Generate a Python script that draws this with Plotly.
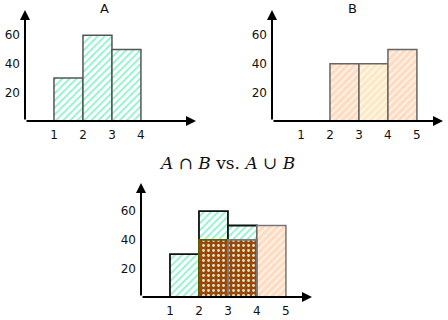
import plotly.graph_objects as go

# histogram-style data
a_bins = [1, 2, 3]
a_counts = [30, 60, 50]
b_bins = [2, 3, 4]
b_counts = [40, 40, 50]
inter_bins = [2, 3]
inter_counts = [40, 40]
union_extra_bins = [4]
union_extra_counts = [50]

x_ticks_a = [1, 2, 3, 4]
x_ticks_b = [1, 2, 3, 4, 5]
y_ticks = [20, 40, 60]

green_hatch = dict(shape="/", fgcolor="#8ef3cc", bgcolor="white", size=5, solidity=0.35, fillmode="replace")
peach_hatch = dict(shape="/", fgcolor="#fff6ee", bgcolor="#fddcc2", size=5, solidity=0.3, fillmode="replace")
yellow_hatch = dict(shape="/", fgcolor="#fffaf0", bgcolor="#fde8c4", size=5, solidity=0.3, fillmode="replace")
dots = dict(shape=".", fgcolor="#d8ecd0", bgcolor="#9c4608", size=5, solidity=0.25, fillmode="replace")

fig = go.Figure()

# panel A
fig.add_trace(go.Bar(x=a_bins, y=a_counts, offset=0, width=1, xaxis="x", yaxis="y",
                     marker=dict(pattern=green_hatch, line=dict(color="#555555", width=1.5))))
# panel B
b_patterns = [peach_hatch, yellow_hatch, peach_hatch]
for i in range(len(b_bins)):
    fig.add_trace(go.Bar(x=[b_bins[i]], y=[b_counts[i]], offset=0, width=1, xaxis="x2", yaxis="y2",
                         marker=dict(pattern=b_patterns[i], line=dict(color="#666666", width=1.5))))
# bottom panel: union then intersection
fig.add_trace(go.Bar(x=a_bins, y=a_counts, offset=0, width=1, xaxis="x3", yaxis="y3",
                     marker=dict(pattern=green_hatch, line=dict(color="#111111", width=1.8))))
fig.add_trace(go.Bar(x=union_extra_bins, y=union_extra_counts, offset=0, width=1, xaxis="x3", yaxis="y3",
                     marker=dict(pattern=peach_hatch, line=dict(color="#777777", width=1.5))))
inter_edges = ["#5c5c00", "#777777"]
for i in range(len(inter_bins)):
    fig.add_trace(go.Bar(x=[inter_bins[i]], y=[inter_counts[i]], offset=0, width=1, xaxis="x3", yaxis="y3",
                         marker=dict(pattern=dots, line=dict(color=inter_edges[i], width=1.8))))

tick_font = dict(family="DejaVu Sans", size=12, color="#111111")

def xax(domain, anchor, ticks):
    return dict(domain=domain, anchor=anchor, range=[0, 5.9], tickvals=ticks, showgrid=False,
                zeroline=False, showline=False, ticks="", tickfont=tick_font, ticklabelstandoff=5,
                automargin=False)

def yax(domain, anchor, top):
    return dict(domain=domain, anchor=anchor, range=[0, top], tickvals=y_ticks, showgrid=False,
                zeroline=False, showline=False, ticks="", tickfont=tick_font, ticklabelstandoff=4,
                automargin=False)

fig.update_layout(
    width=448, height=320, margin=dict(l=0, r=0, t=0, b=0, autoexpand=False),
    paper_bgcolor="white", plot_bgcolor="white", showlegend=False, barmode="overlay",
    xaxis=xax([25 / 448, 196 / 448], "y", x_ticks_a),
    yaxis=yax([199 / 320, 310 / 320], "x", 77.6),
    xaxis2=xax([272 / 448, 443 / 448], "y2", x_ticks_b),
    yaxis2=yax([199 / 320, 310 / 320], "x2", 77.6),
    xaxis3=xax([141 / 448, 312 / 448], "y3", x_ticks_b),
    yaxis3=yax([23 / 320, 137 / 320], "x3", 79.7),
)

# hand-drawn style axes with arrow heads
for xr, yr, top in [("x", "y", 77.6), ("x2", "y2", 77.6), ("x3", "y3", 79.7)]:
    fig.add_annotation(x=5.9, y=0, ax=0, ay=0, xref=xr, yref=yr, axref=xr, ayref=yr, text="",
                       showarrow=True, arrowhead=2, arrowsize=1, arrowwidth=2, arrowcolor="black")
    fig.add_annotation(x=0, y=top, ax=0, ay=0, xref=xr, yref=yr, axref=xr, ayref=yr, text="",
                       showarrow=True, arrowhead=2, arrowsize=1, arrowwidth=2, arrowcolor="black")

title_font = dict(family="DejaVu Sans", size=13, color="#111111")
fig.add_annotation(x=104 / 448, y=1 - 8 / 320, xref="paper", yref="paper", text="A",
                   xanchor="center", yanchor="middle", showarrow=False, font=title_font)
fig.add_annotation(x=352 / 448, y=1 - 8 / 320, xref="paper", yref="paper", text="B",
                   xanchor="center", yanchor="middle", showarrow=False, font=title_font)
fig.add_annotation(x=227 / 448, y=1 - 163 / 320, xref="paper", yref="paper",
                   text="<i>A</i> ∩ <i>B</i> vs. <i>A</i> ∪ <i>B</i>",
                   xanchor="center", yanchor="middle", showarrow=False,
                   font=dict(family="DejaVu Serif", size=17, color="#111111"))

fig.write_html("out.html", config={"displayModeBar": False},
               post_script="document.body.style.margin='0';")
